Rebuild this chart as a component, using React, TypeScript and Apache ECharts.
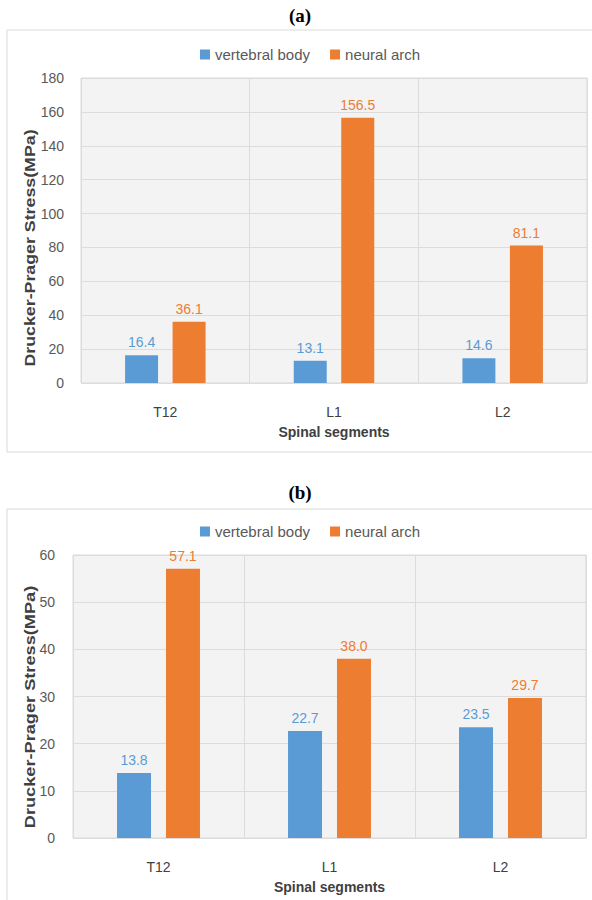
import React, { useEffect, useRef } from "react";
import * as echarts from "echarts";

const categories = ["T12", "L1", "L2"];
const seriesNames = ["vertebral body", "neural arch"];
const bodyA = [16.4, 13.1, 14.6];
const archA = [36.1, 156.5, 81.1];
const bodyB = [13.8, 22.7, 23.5];
const archB = [57.1, 38.0, 29.7];
const yTicksA = { min: 0, max: 180, interval: 20 };
const yTicksB = { min: 0, max: 60, interval: 10 };

const BLUE = "#5b9bd5";
const ORANGE = "#ed7d31";
const FONT = "Liberation Sans";

export default function App() {
  const ref = useRef<HTMLDivElement>(null);
  useEffect(() => {
    if (!ref.current) return;
    const chart = echarts.init(ref.current, null, { renderer: "svg" });

    const grids = [
      { left: 81, right: 5, top: 78, height: 305 },
      { left: 73, right: 6, top: 555, height: 283 },
    ];
    const mkX = (gi: number) => ({
      type: "category",
      gridIndex: gi,
      data: categories,
      axisLine: { show: false },
      axisTick: { show: false },
      axisLabel: { color: "#404040", fontSize: 14, fontFamily: FONT, margin: 22 },
      splitLine: { show: true, lineStyle: { color: "#dcdcdc", width: 1 } },
      name: "Spinal segments",
      nameLocation: "middle",
      nameGap: 42,
      nameTextStyle: { color: "#404040", fontSize: 14, fontWeight: "bold", fontFamily: FONT },
    });
    const mkY = (gi: number, t: { min: number; max: number; interval: number }, margin: number) => ({
      type: "value",
      gridIndex: gi,
      min: t.min,
      max: t.max,
      interval: t.interval,
      axisLine: { show: false },
      axisTick: { show: false },
      axisLabel: { color: "#595959", fontSize: 14, fontFamily: FONT, margin },
      splitLine: { show: true, lineStyle: { color: "#dcdcdc", width: 1 } },
    });
    const mkBar = (name: string, data: number[], color: string, gi: number, bw: number) => ({
      type: "bar",
      name,
      data,
      xAxisIndex: gi,
      yAxisIndex: gi,
      barWidth: bw,
      barGap: "44%",
      itemStyle: { color },
      label: {
        show: true,
        position: "top",
        distance: 6,
        color,
        fontSize: 14,
        fontFamily: FONT,
        formatter: (p: any) => Number(p.value).toFixed(1),
      },
    });
    const legendBase = {
      data: seriesNames,
      icon: "rect",
      itemWidth: 10,
      itemHeight: 10,
      itemGap: 20,
      textStyle: { color: "#595959", fontSize: 15, fontFamily: FONT },
      left: 195,
    };

    chart.setOption({
      animation: false,
      backgroundColor: "#ffffff",
      legend: [
        { ...legendBase, top: 42 },
        { ...legendBase, top: 519 },
      ],
      grid: grids.map((g) => ({
        ...g,
        show: true,
        backgroundColor: "#f3f3f3",
        borderColor: "#d9d9d9",
        borderWidth: 1,
        containLabel: false,
      })),
      xAxis: [mkX(0), mkX(1)],
      yAxis: [mkY(0, yTicksA, 17), mkY(1, yTicksB, 18)],
      series: [
        mkBar(seriesNames[0], bodyA, BLUE, 0, 33),
        mkBar(seriesNames[1], archA, ORANGE, 0, 33),
        mkBar(seriesNames[0], bodyB, BLUE, 1, 34),
        mkBar(seriesNames[1], archB, ORANGE, 1, 34),
      ],
      graphic: [
        {
          type: "rect",
          shape: { x: 7, y: 30, width: 640, height: 422 },
          style: { fill: "none", stroke: "#d9d9d9", lineWidth: 1 },
          silent: true,
        },
        {
          type: "rect",
          shape: { x: 7, y: 509, width: 640, height: 440 },
          style: { fill: "none", stroke: "#d9d9d9", lineWidth: 1 },
          silent: true,
        },
        {
          type: "text",
          x: 300,
          y: 15,
          style: {
            text: "(a)",
            fontFamily: "Liberation Serif",
            fontWeight: "bold",
            fontSize: 19,
            fill: "#000",
            align: "center",
            verticalAlign: "middle",
          },
        },
        {
          type: "text",
          x: 300,
          y: 492,
          style: {
            text: "(b)",
            fontFamily: "Liberation Serif",
            fontWeight: "bold",
            fontSize: 19,
            fill: "#000",
            align: "center",
            verticalAlign: "middle",
          },
        },
        {
          type: "text",
          x: 30,
          y: 248,
          rotation: Math.PI / 2,
          scaleX: 1.27,
          style: {
            text: "Drucker-Prager Stress(MPa)",
            fontFamily: FONT,
            fontWeight: "bold",
            fontSize: 14,
            fill: "#404040",
            align: "center",
            verticalAlign: "middle",
          },
        },
        {
          type: "text",
          x: 30,
          y: 707,
          rotation: Math.PI / 2,
          scaleX: 1.3,
          style: {
            text: "Drucker-Prager Stress(MPa)",
            fontFamily: FONT,
            fontWeight: "bold",
            fontSize: 14,
            fill: "#404040",
            align: "center",
            verticalAlign: "middle",
          },
        },
      ],
    });
    return () => chart.dispose();
  }, []);
  return (
    <div
      ref={ref}
      style={{ position: "absolute", left: 0, top: 0, width: 592, height: 900 }}
    />
  );
}
